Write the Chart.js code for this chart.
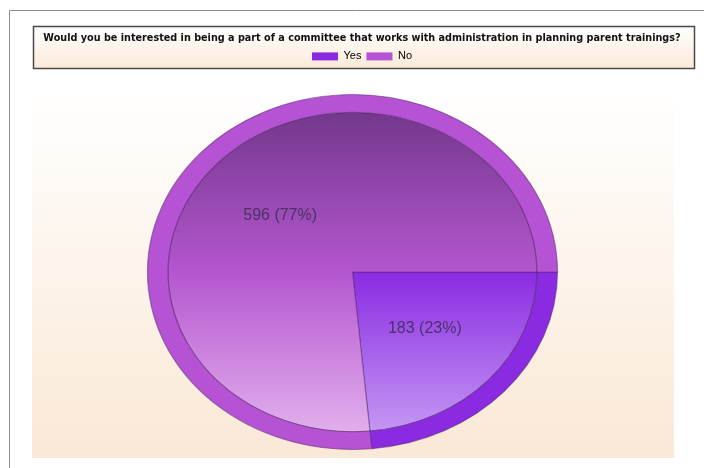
<!DOCTYPE html>
<html>
<head>
<meta charset="utf-8">
<script src="https://cdn.jsdelivr.net/npm/chart.js@4.4.1/dist/chart.umd.min.js"></script>
<style>
html,body{margin:0;padding:0;background:#fff;}
canvas{display:block;}
</style>
</head>
<body>
<canvas id="c" width="704" height="468"></canvas>
<script>
const titleText = 'Would you be interested in being a part of a committee that works with administration in planning parent trainings?';
const categories = ['Yes', 'No'];
const counts = [183, 596];
const ringColors = ['#8a2be2', '#b553d4'];
const faceTop = ['#6a1fb8', '#6c3485'];
const faceMid = ['#8a2be2', '#b456cf'];
const faceBottom = ['#caa4f5', '#e6b9f0'];

const X_STRETCH = 204.5 / 177;
const LEFT_PAD = 20;            // shifts title/legend right
const PIE_SHIFT = -LEFT_PAD / 2 + 0.5; // keeps the pie where the reference has it
const total = counts.reduce((a, b) => a + b, 0);

function pickTitleFont() {
  const cv = document.createElement('canvas').getContext('2d');
  const probe = 'Would you be interested in being a part';
  cv.font = 'bold 40px monospace';
  const mono = cv.measureText(probe).width;
  const cands = ['Liberation Sans Narrow', 'DejaVu Sans Condensed', 'Liberation Sans'];
  let fam = 'Liberation Sans';
  for (const f of cands) {
    cv.font = "bold 40px '" + f + "', monospace";
    if (Math.abs(cv.measureText(probe).width - mono) > 1) { fam = f; break; }
  }
  cv.font = "bold 13px '" + fam + "'";
  const w = cv.measureText(titleText).width;
  const size = Math.min(13, 13 * 638 / w);
  return { family: "'" + fam + "', Arial, sans-serif", size: size, weight: 'bold' };
}
const titleFont = pickTitleFont();

function faceGradient(ctx) {
  const chart = ctx.chart;
  const a = chart.chartArea;
  if (!a) return faceMid[ctx.dataIndex];
  const g = chart.ctx.createLinearGradient(0, a.top, 0, a.bottom);
  g.addColorStop(0, faceTop[ctx.dataIndex]);
  g.addColorStop(0.5, faceMid[ctx.dataIndex]);
  g.addColorStop(1, faceBottom[ctx.dataIndex]);
  return g;
}

const framePlugin = {
  id: 'frame',
  beforeDraw(chart) {
    const c = chart.ctx;
    c.save();
    c.fillStyle = '#ffffff';
    c.fillRect(0, 0, chart.width, chart.height);
    c.strokeStyle = '#8c8c8c';
    c.lineWidth = 1;
    c.beginPath();
    c.moveTo(9.5, chart.height);
    c.lineTo(9.5, 10.5);
    c.lineTo(chart.width, 10.5);
    c.stroke();
    let g = c.createLinearGradient(0, 90, 0, 458);
    g.addColorStop(0, '#ffffff');
    g.addColorStop(1, '#fae8d6');
    c.fillStyle = g;
    c.fillRect(32, 90, 642, 368);
    g = c.createLinearGradient(0, 26, 0, 69);
    g.addColorStop(0, '#ffffff');
    g.addColorStop(1, '#fbe9d7');
    c.fillStyle = g;
    c.fillRect(33, 26, 662, 43);
    c.strokeStyle = '#4a4a4a';
    c.lineWidth = 1.5;
    c.strokeRect(33.5, 26.5, 661, 42);
    c.restore();
  },
  beforeDatasetsDraw(chart) {
    const el = chart.getDatasetMeta(0).data[0];
    const c = chart.ctx;
    c.save();
    c.translate(el.x + PIE_SHIFT, el.y);
    c.scale(X_STRETCH, 1);
    c.translate(-el.x, -el.y);
  },
  afterDatasetsDraw(chart) {
    const c = chart.ctx;
    c.restore();
    const meta = chart.getDatasetMeta(1);
    c.save();
    c.font = '16px "Liberation Sans", Arial, sans-serif';
    c.fillStyle = 'rgba(68,48,92,0.92)';
    c.textAlign = 'center';
    c.textBaseline = 'middle';
    meta.data.forEach((arc, i) => {
      const mid = (arc.startAngle + arc.endAngle) / 2;
      const r = arc.outerRadius * 0.53;
      const x = arc.x + PIE_SHIFT + Math.cos(mid) * r * X_STRETCH;
      const y = arc.y + Math.sin(mid) * r;
      const pct = Math.round(counts[i] / total * 100);
      c.fillText(counts[i] + ' (' + pct + '%)', x, y);
    });
    c.restore();
  }
};

new Chart(document.getElementById('c'), {
  type: 'pie',
  data: {
    labels: categories,
    datasets: [
      {
        data: counts,
        backgroundColor: ringColors,
        borderColor: 'rgba(80,40,100,0.5)',
        borderWidth: 1,
        weight: 1
      },
      {
        data: counts,
        backgroundColor: faceGradient,
        borderColor: 'rgba(70,30,95,0.45)',
        borderWidth: 1,
        weight: 9
      }
    ]
  },
  options: {
    responsive: false,
    animation: false,
    rotation: 90,
    hoverOffset: 0,
    layout: { padding: { top: 0, bottom: 18, left: LEFT_PAD, right: 0 } },
    plugins: {
      tooltip: { enabled: false },
      title: {
        display: true,
        text: titleText,
        color: '#111',
        font: titleFont,
        padding: { top: 32, bottom: 1 }
      },
      subtitle: {
        display: true,
        text: ' ',
        font: { size: 1 },
        padding: { top: 0, bottom: 21 }
      },
      legend: {
        display: true,
        position: 'top',
        weight: 1600,
        labels: {
          boxWidth: 26,
          boxHeight: 8,
          padding: 5,
          color: '#555',
          font: { family: "'Liberation Sans', Arial, sans-serif", size: 11 },
          generateLabels(chart) {
            return categories.map((name, i) => ({
              text: name,
              fillStyle: ringColors[i],
              strokeStyle: ringColors[i],
              lineWidth: 0,
              hidden: false,
              index: i,
              datasetIndex: 0
            }));
          }
        }
      }
    }
  },
  plugins: [framePlugin]
});
</script>
</body>
</html>
